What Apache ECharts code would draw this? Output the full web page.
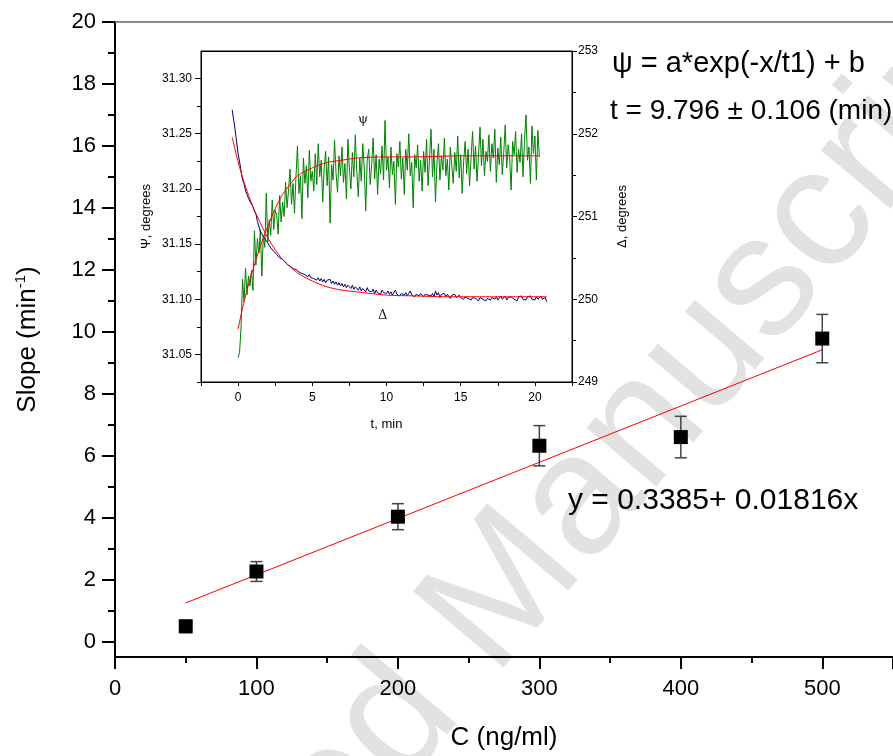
<!DOCTYPE html>
<html><head><meta charset="utf-8">
<script src="https://cdn.jsdelivr.net/npm/echarts@6/dist/echarts.min.js"></script>
<style>html,body{margin:0;padding:0;background:#fff}#c{width:893px;height:756px}</style>
</head><body><div id="c"></div>
<script>
// ---- main chart data ----
const concentration = [50, 100, 200, 300, 400, 500];
const slope = [0.49, 2.26, 4.03, 6.32, 6.60, 9.78];
const slopeErr = [0.20, 0.32, 0.42, 0.65, 0.67, 0.78];
const fitX = [50, 500];
const fitY = [1.246, 9.419];
const mainYLabels = [0, 2, 4, 6, 8, 10, 12, 14, 16, 18, 20];
const mainYMinor = [1, 3, 5, 7, 9, 11, 13, 15, 17, 19];

// ---- inset data ----
const insetXLabels = [0, 5, 10, 15, 20];
const insetPsiLabels = [31.05, 31.10, 31.15, 31.20, 31.25, 31.30];
const insetPsiMinor = [31.025, 31.075, 31.125, 31.175, 31.225, 31.275];
const sampleStep = 0.1;
const psiStart = 0;
const psi = [
31.047,31.052,31.075,31.118,31.098,31.128,31.104,31.121,31.112,31.126,
31.108,31.162,31.131,31.155,31.142,31.163,31.121,31.158,31.147,31.196,
31.152,31.172,31.158,31.190,31.163,31.181,31.176,31.159,31.194,31.170,
31.188,31.175,31.206,31.183,31.199,31.218,31.186,31.205,31.178,31.211,
31.239,31.196,31.212,31.173,31.228,31.205,31.221,31.192,31.235,31.207,
31.216,31.198,31.232,31.204,31.241,31.211,31.226,31.188,31.219,31.234,
31.203,31.229,31.169,31.222,31.208,31.244,31.214,31.197,31.230,31.212,
31.238,31.206,31.223,31.191,31.245,31.218,31.200,31.233,31.211,31.249,
31.215,31.193,31.228,31.207,31.241,31.219,31.180,31.226,31.236,31.204,
31.222,31.246,31.209,31.231,31.195,31.227,31.214,31.239,31.208,31.262,
31.217,31.229,31.201,31.238,31.213,31.225,31.186,31.232,31.220,31.243,
31.209,31.228,31.195,31.236,31.217,31.250,31.212,31.224,31.183,31.231,
31.219,31.240,31.207,31.226,31.198,31.234,31.215,31.245,31.203,31.228,
31.254,31.211,31.236,31.188,31.223,31.241,31.208,31.230,31.217,31.246,
31.212,31.227,31.199,31.238,31.221,31.205,31.233,31.216,31.248,31.210,
31.231,31.196,31.225,31.243,31.214,31.236,31.203,31.229,31.252,31.218,
31.239,31.207,31.230,31.256,31.221,31.245,31.212,31.234,31.225,31.249,
31.216,31.241,31.228,31.254,31.206,31.237,31.222,31.247,31.213,31.233,
31.258,31.219,31.240,31.227,31.199,31.243,31.231,31.252,31.215,31.236,
31.224,31.250,31.211,31.244,31.267,31.226,31.238,31.205,31.257,31.232,
31.248,31.208,31.253,31.229
];
const deltaStart = -0.4;
const delta = [
252.29,252.17,252.05,251.90,
251.76,251.66,251.55,251.44,251.40,251.31,251.30,251.22,251.18,251.16,
251.12,251.06,251.03,250.94,250.93,250.82,250.80,250.76,250.73,250.71,
250.68,250.66,250.62,250.61,250.58,250.58,250.54,250.53,250.50,250.50,
250.48,250.46,250.45,250.42,250.43,250.40,250.41,250.37,250.39,250.36,
250.36,250.33,250.35,250.31,250.32,250.30,250.31,250.27,250.30,250.26,
250.28,250.25,250.27,250.23,250.26,250.22,250.25,250.21,250.24,250.20,
250.23,250.21,250.24,250.19,250.22,250.18,250.21,250.17,250.20,250.16,
250.19,250.15,250.18,250.14,250.17,250.15,250.13,250.17,250.12,250.15,
250.14,250.11,250.15,250.10,250.13,250.11,250.09,250.14,250.10,250.12,
250.09,250.12,250.07,250.11,250.08,250.10,250.06,250.11,250.08,250.09,
250.07,250.10,250.06,250.09,250.05,250.08,250.11,250.06,250.08,250.04,
250.07,250.09,250.05,250.08,250.04,250.07,250.10,250.05,250.07,250.03,
250.06,250.08,250.04,250.07,250.09,250.03,250.06,250.08,250.05,250.07,
250.04,250.07,250.03,250.10,250.05,250.08,250.02,250.06,250.04,250.07,
250.03,250.06,250.04,250.01,250.05,250.03,250.06,250.02,250.04,250.05,
250.02,250.04,250.00,250.03,250.05,250.01,250.03,249.99,250.02,250.04,
250.01,250.03,249.98,250.02,250.04,250.00,250.02,249.98,250.01,250.03,
249.99,250.02,250.04,250.00,250.03,249.99,250.01,250.04,250.00,250.02,
250.04,249.99,250.02,250.00,250.03,250.05,250.00,250.02,249.98,250.03,
250.01,250.04,250.00,250.02,249.99,250.03,250.01,250.04,250.00,250.02,
249.99,250.03,250.00,250.02,250.04,250.00,249.98,250.02,249.97
];
const psiFitT = [0, 0.25, 0.5, 0.75, 1, 1.5, 2, 2.5, 3, 3.5, 4, 5, 6, 7, 8, 10, 12, 15, 20.3];
const psiFitV = [31.073, 31.089, 31.103, 31.116, 31.127, 31.148, 31.166, 31.182, 31.195, 31.204, 31.212, 31.219, 31.224, 31.226, 31.228, 31.229, 31.229, 31.230, 31.230];
const deltaFitT = [-0.4, 0, 0.5, 1, 1.5, 2, 2.5, 3, 4, 5, 6, 7, 8, 10, 12, 14, 17, 20.8];
const deltaFitV = [251.96, 251.66, 251.36, 251.12, 250.92, 250.74, 250.60, 250.48, 250.32, 250.22, 250.15, 250.11, 250.09, 250.05, 250.04, 250.03, 250.03, 250.03];

const FONT = '"Liberation Sans", Arial, sans-serif';
const chart = echarts.init(document.getElementById('c'), null, {renderer: 'canvas'});

const blk = {color: '#000', width: 2};
const insetLine = {color: '#000', width: 1};
const WM_ROT = 0.87, WM_X = 524, WM_Y = 703, WM_SIZE = 172;

const option = {
  animation: false,
  backgroundColor: '#fff',
  grid: [
    {left: 115, right: -7, top: 22, bottom: 99},
    {left: 201, right: 321, top: 51, bottom: 374, show: true, borderColor: '#000', borderWidth: 1,
     backgroundColor: 'transparent'}
  ],
  xAxis: [
    {gridIndex: 0, type: 'value', min: 0, max: 550, interval: 100, position: 'bottom',
     axisLine: {show: true, onZero: false, lineStyle: blk},
     axisTick: {show: true, inside: false, length: 12, lineStyle: blk},
     minorTick: {show: true, splitNumber: 2, length: 6, lineStyle: blk},
     splitLine: {show: false},
     axisLabel: {fontFamily: FONT, fontSize: 22, color: '#000', margin: 21, showMaxLabel: false},
     name: 'C (ng/ml)', nameLocation: 'middle', nameGap: 68,
     nameTextStyle: {fontFamily: FONT, fontSize: 26, color: '#000'}},
    {gridIndex: 0, type: 'value', min: 0, max: 550, position: 'top',
     axisLine: {show: true, onZero: false, lineStyle: {color: '#666', width: 1.5}},
     axisTick: {show: false}, axisLabel: {show: false}, splitLine: {show: false}},
    {gridIndex: 1, type: 'value', min: -2.5, max: 22.5, interval: 2.5, position: 'bottom', z: 10,
     axisLine: {show: true, onZero: false, lineStyle: insetLine},
     axisTick: {show: true, inside: false, length: 4, lineStyle: insetLine},
     splitLine: {show: false},
     axisLabel: {customValues: insetXLabels, fontFamily: FONT, fontSize: 12, color: '#000', margin: 10},
     name: 't, min', nameLocation: 'middle', nameGap: 36,
     nameTextStyle: {fontFamily: FONT, fontSize: 13, color: '#000'}},
    {gridIndex: 1, type: 'value', min: -2.5, max: 22.5, position: 'top', z: 10,
     axisLine: {show: true, onZero: false, lineStyle: insetLine},
     axisTick: {show: false}, axisLabel: {show: false}, splitLine: {show: false}}
  ],
  yAxis: [
    {gridIndex: 0, type: 'value', min: -0.5, max: 20, position: 'left',
     axisLine: {show: true, onZero: false, lineStyle: blk},
     axisTick: {show: true, customValues: mainYLabels, inside: false, length: 13, lineStyle: blk},
     splitLine: {show: false},
     axisLabel: {customValues: mainYLabels, fontFamily: FONT, fontSize: 22, color: '#000', margin: 19},
     name: '{a|Slope (min}{b|-1}{a|)}', nameLocation: 'middle', nameGap: 72, nameRotate: 90,
     nameTextStyle: {rich: {
       a: {fontFamily: FONT, fontSize: 26, color: '#000', lineHeight: 30},
       b: {fontFamily: FONT, fontSize: 15, color: '#000', verticalAlign: 'top', lineHeight: 30}
     }}},
    {gridIndex: 0, type: 'value', min: -0.5, max: 20, position: 'left',
     axisLine: {show: false, onZero: false},
     axisTick: {show: true, customValues: mainYMinor, inside: false, length: 7, lineStyle: blk},
     axisLabel: {show: false}, splitLine: {show: false}},
    {gridIndex: 1, type: 'value', min: 31.025, max: 31.325, position: 'left', z: 10,
     axisLine: {show: true, onZero: false, lineStyle: insetLine},
     axisTick: {show: true, customValues: insetPsiLabels, inside: false, length: 6, lineStyle: insetLine},
     splitLine: {show: false},
     axisLabel: {customValues: insetPsiLabels, fontFamily: FONT, fontSize: 12, color: '#000', margin: 9,
       formatter: v => Number(v).toFixed(2)},
     name: 'Ψ, degrees', nameLocation: 'middle', nameGap: 48, nameRotate: 90,
     nameTextStyle: {fontFamily: FONT, fontSize: 13, color: '#000'}},
    {gridIndex: 1, type: 'value', min: 31.025, max: 31.325, position: 'left', z: 10,
     axisLine: {show: false, onZero: false},
     axisTick: {show: true, customValues: insetPsiMinor, inside: false, length: 4, lineStyle: insetLine},
     axisLabel: {show: false}, splitLine: {show: false}},
    {gridIndex: 1, type: 'value', min: 249, max: 253, interval: 1, position: 'right', z: 10,
     axisLine: {show: true, onZero: false, lineStyle: insetLine},
     axisTick: {show: true, inside: false, length: 5, lineStyle: insetLine},
     minorTick: {show: true, splitNumber: 2, length: 4, lineStyle: insetLine},
     splitLine: {show: false},
     axisLabel: {fontFamily: FONT, fontSize: 12, color: '#000', margin: 6},
     name: 'Δ, degrees', nameLocation: 'middle', nameGap: 44, nameRotate: 90,
     nameTextStyle: {fontFamily: FONT, fontSize: 13, color: '#000'}}
  ],
  series: [
    {type: 'line', xAxisIndex: 0, yAxisIndex: 0, data: fitX.map((x, i) => [x, fitY[i]]),
     showSymbol: false, lineStyle: {color: '#ff0000', width: 1}, z: 3},
    {type: 'custom', xAxisIndex: 0, yAxisIndex: 0, z: 4,
     data: concentration.map((c, i) => [c, slope[i], slopeErr[i]]),
     renderItem: (params, api) => {
       const x = api.value(0), y = api.value(1), e = api.value(2);
       const t = api.coord([x, y + e]), b = api.coord([x, y - e]);
       const w = 6, st = {stroke: '#444', lineWidth: 1.5};
       return {type: 'group', children: [
         {type: 'line', shape: {x1: t[0], y1: t[1], x2: b[0], y2: b[1]}, style: st},
         {type: 'line', shape: {x1: t[0] - w, y1: t[1], x2: t[0] + w, y2: t[1]}, style: st},
         {type: 'line', shape: {x1: b[0] - w, y1: b[1], x2: b[0] + w, y2: b[1]}, style: st}
       ]};
     }},
    {type: 'scatter', xAxisIndex: 0, yAxisIndex: 0, symbol: 'rect', symbolSize: 14,
     itemStyle: {color: '#000', opacity: 1}, z: 5,
     data: concentration.map((c, i) => [c, slope[i]])},
    {type: 'line', xAxisIndex: 2, yAxisIndex: 2, showSymbol: false, z: 6,
     lineStyle: {color: '#008000', width: 1},
     data: psi.map((v, i) => [psiStart + i * sampleStep, v])},
    {type: 'line', xAxisIndex: 2, yAxisIndex: 4, showSymbol: false, z: 6,
     lineStyle: {color: '#000080', width: 1},
     data: delta.map((v, i) => [deltaStart + i * sampleStep, v])},
    {type: 'line', xAxisIndex: 2, yAxisIndex: 2, showSymbol: false, smooth: 0.3, z: 7,
     lineStyle: {color: '#ff0000', width: 1},
     data: psiFitT.map((t, i) => [t, psiFitV[i]])},
    {type: 'line', xAxisIndex: 2, yAxisIndex: 4, showSymbol: false, smooth: 0.3, z: 7,
     lineStyle: {color: '#ff0000', width: 1},
     data: deltaFitT.map((t, i) => [t, deltaFitV[i]])}
  ],
  graphic: [
    {type: 'text', z: -10, silent: true, x: WM_X, y: WM_Y, rotation: WM_ROT,
     style: {text: 'Accepted ', fontFamily: FONT, fontSize: WM_SIZE, fill: '#e2e2e2',
       textAlign: 'right', textVerticalAlign: 'bottom'}},
    {type: 'text', z: -10, silent: true, x: WM_X, y: WM_Y, rotation: WM_ROT,
     style: {text: 'Manuscript', fontFamily: FONT, fontSize: WM_SIZE, fill: '#e2e2e2',
       textAlign: 'left', textVerticalAlign: 'bottom'}},
    {type: 'text', left: 612, top: 49, z: 20,
     style: {text: 'ψ = a*exp(-x/t1) + b', fontFamily: FONT, fontSize: 29, fill: '#000'}},
    {type: 'text', left: 610, top: 97, z: 20,
     style: {text: 't = 9.796 ± 0.106 (min)', fontFamily: FONT, fontSize: 28, fill: '#000'}},
    {type: 'text', left: 568, top: 486, z: 20,
     style: {text: 'y = 0.3385+ 0.01816x', fontFamily: FONT, fontSize: 30, fill: '#000'}},
    {type: 'text', left: 358, top: 113, z: 20,
     style: {text: 'ψ', fontFamily: '"DejaVu Serif", serif', fontSize: 13, fill: '#222'}},
    {type: 'text', left: 378, top: 309, z: 20,
     style: {text: 'Δ', fontFamily: '"DejaVu Serif", serif', fontSize: 13, fill: '#222'}}
  ]
};
chart.setOption(option);
</script>
</body></html>
